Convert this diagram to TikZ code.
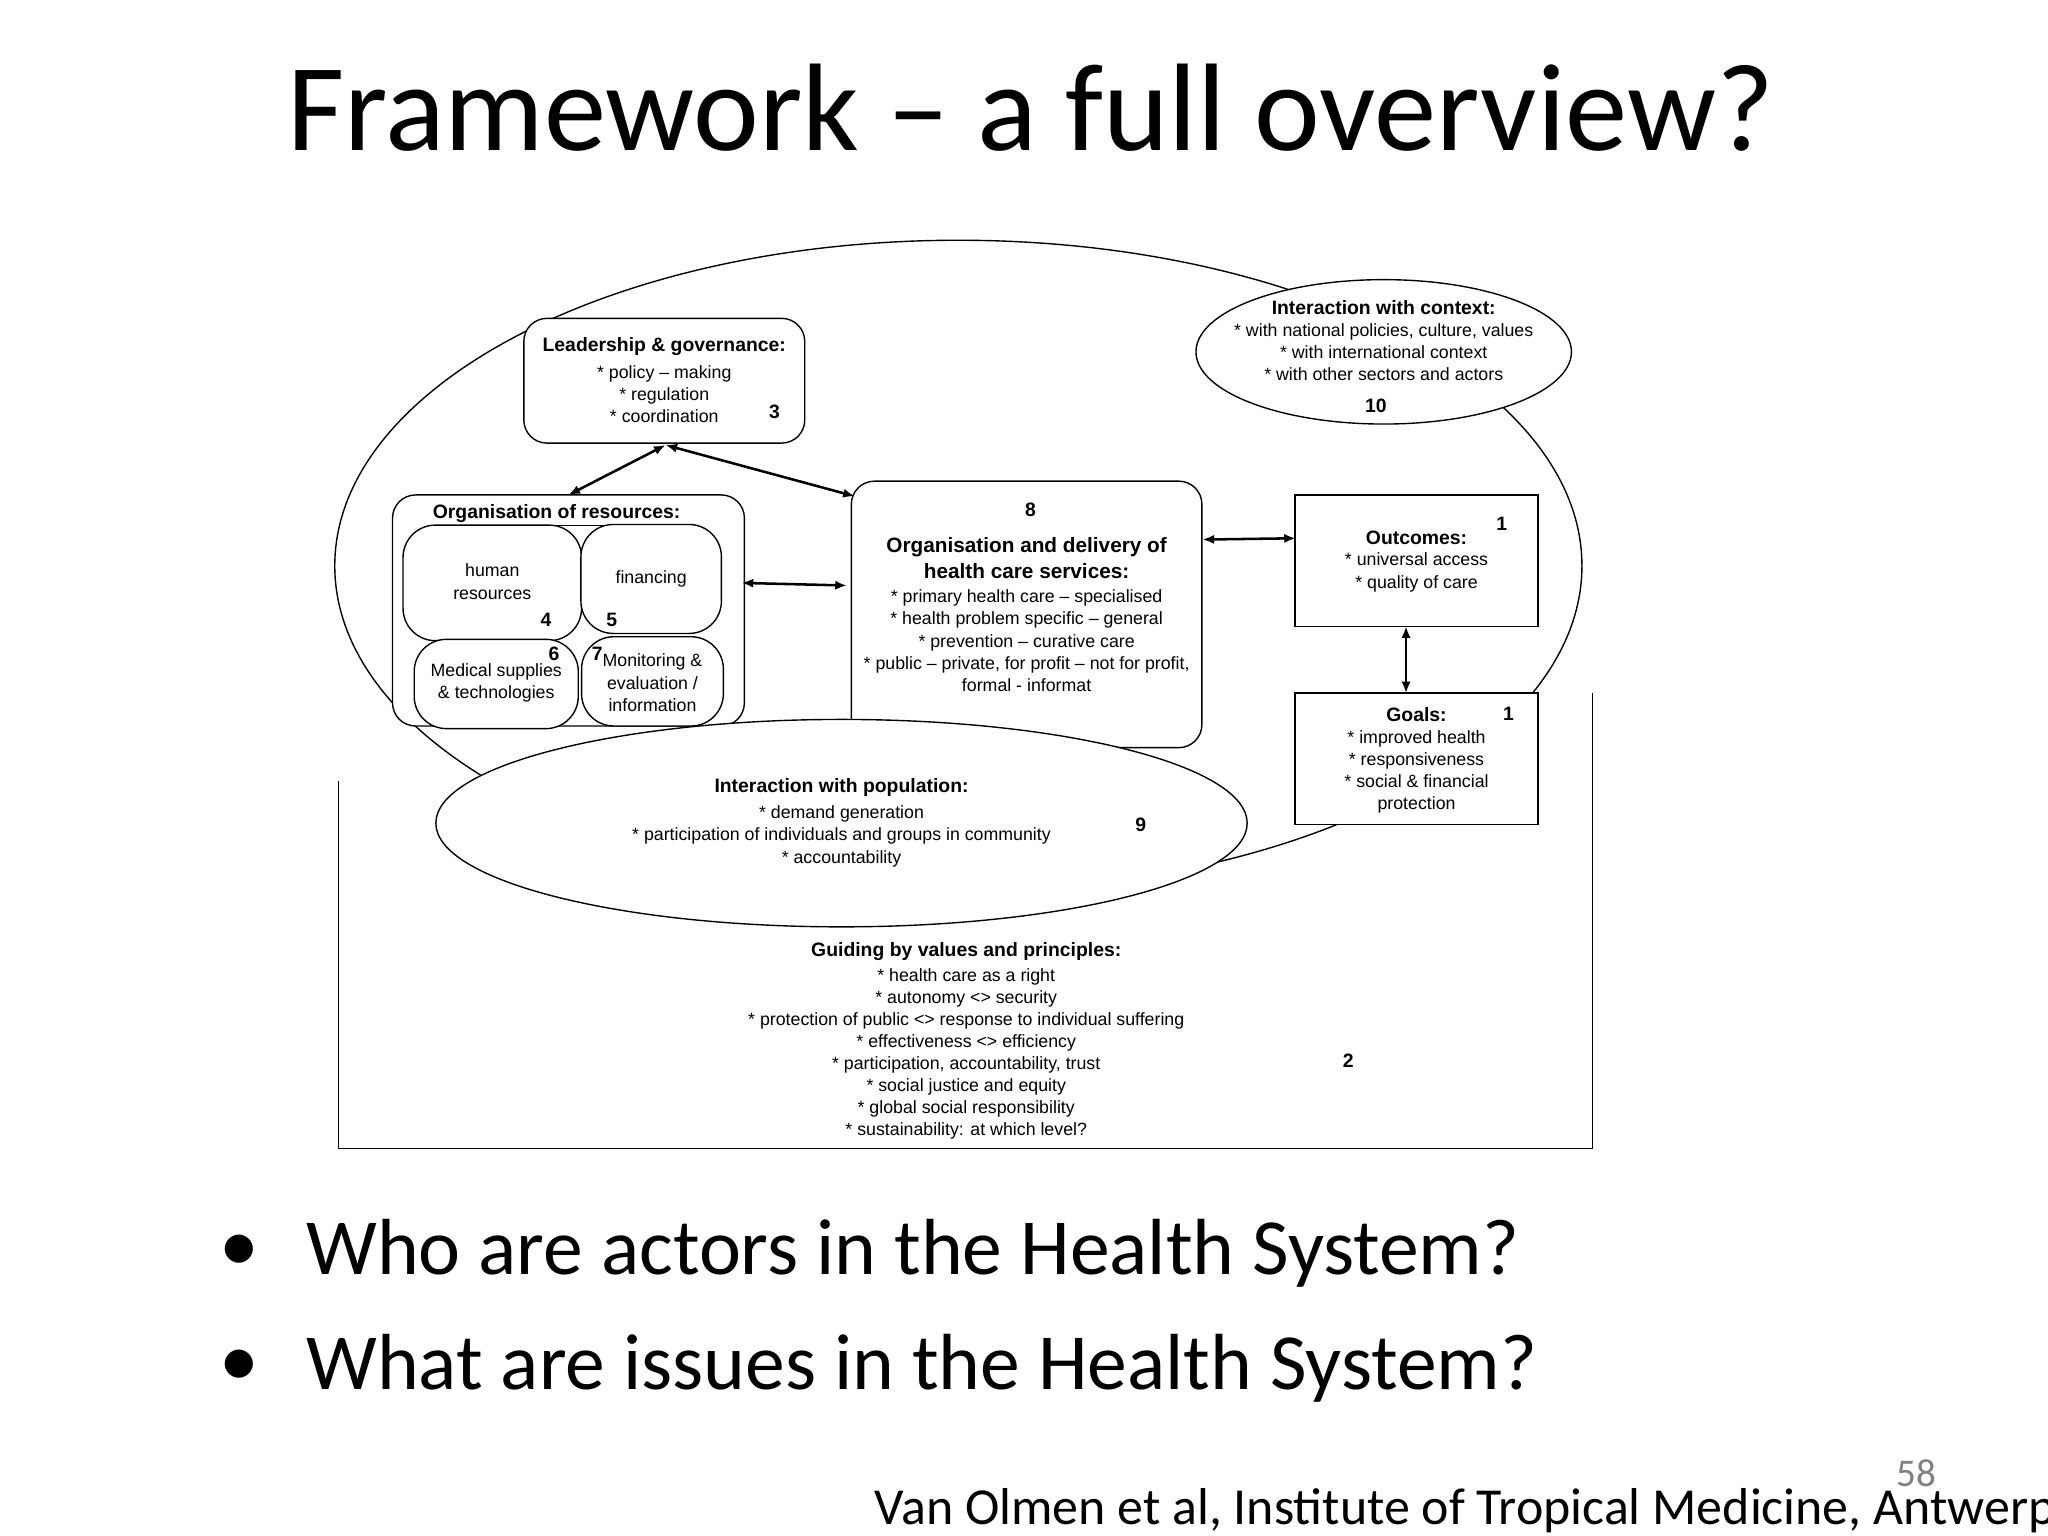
\documentclass[tikz,border=0pt]{standalone}
\usepackage{fontspec}
\setmainfont{Carlito}
\newfontfamily\arial{Liberation Sans}
\usetikzlibrary{shapes.geometric,arrows.meta}
\begin{document}
\begin{tikzpicture}[x=0.02cm,y=-0.02cm,
  box/.style={draw, line width=0.6pt, fill=white, rounded corners=10pt},
  sq/.style={draw, line width=0.6pt, fill=white},
  txt/.style={font=\arial\fontsize{7.7}{9.6}\selectfont, align=center, inner sep=0pt},
  bx/.style={font=\arial\bfseries\fontsize{8.4}{10}\selectfont, inner sep=0pt},
  arr/.style={{Latex[length=5pt,width=4pt]}-{Latex[length=5pt,width=4pt]}, line width=1.1pt}]
\useasboundingbox (0,0) rectangle (1560,1170);
\node[font=\fontsize{54}{60}\selectfont, inner sep=0pt] (title) at (785,82) {Framework – a full overview?};
% big ellipse
\draw[line width=0.6pt] (730,431) ellipse [x radius=475, y radius=248];
% values bracket
\draw[line width=0.6pt] (258,595) -- (258,875) -- (1213,875) -- (1213,528);
% leadership
\node[box, minimum width=214*0.02cm, minimum height=95*0.02cm] (lead) at (506,290) {};
\node[bx] (leadt) at (506,264) {Leadership \& governance:};
\node[txt] (leadl) at (506,300) {* policy – making\\* regulation\\* coordination};
\node[bx] (n3) at (590,314) {3};
% resources
\node[box, minimum width=268*0.02cm, minimum height=176*0.02cm] (res) at (433,465) {};
\node[bx] (rest) at (424,393) {\underline{Organisation of resources:}};
\node[box, rounded corners=14pt, minimum width=136*0.02cm, minimum height=88*0.02cm] (hr) at (375,444) {};
\node[txt] (hrt) at (375,443) {human\\resources};
\node[box, rounded corners=14pt, minimum width=107*0.02cm, minimum height=83*0.02cm] (fin) at (496,441) {};
\node[txt] (fint) at (496,441) {financing};
\node[box, rounded corners=14pt, minimum width=125*0.02cm, minimum height=68*0.02cm] (med) at (378,521) {};
\node[txt] (medt) at (378,520) {Medical supplies\\\& technologies};
\node[box, rounded corners=14pt, minimum width=108*0.02cm, minimum height=68*0.02cm] (mon) at (497,519) {};
\node[txt] (mont) at (497,520) {Monitoring \&\\evaluation /\\information};
\node[bx] (n4) at (416,472) {4};
\node[bx] (n5) at (466,472) {5};
\node[bx] (n6) at (422,498) {6};
\node[bx] (n7) at (455,498) {7};
% delivery
\node[box, minimum width=267*0.02cm, minimum height=203*0.02cm] (del) at (782,468) {};
\node[bx] (n8) at (785,388) {8};
\node[bx, align=center, font=\arial\bfseries\fontsize{9}{11.5}\selectfont] (delt) at (782,425) {Organisation and delivery of\\health care services:};
\node[txt] (dell) at (782,488) {* primary health care – specialised\\* health problem specific – general\\* prevention – curative care\\* public – private, for profit – not for profit,\\formal - informat};
% outcomes, goals
\node[sq, minimum width=185*0.02cm, minimum height=100*0.02cm] (out) at (1079,427) {};
\node[bx] (outt) at (1079,410) {Outcomes:};
\node[txt] (outl) at (1079,436) {* universal access\\* quality of care};
\node[bx] (n1a) at (1144,399) {1};
\node[sq, minimum width=185*0.02cm, minimum height=100*0.02cm] (goal) at (1079,578) {};
\node[bx] (goalt) at (1079,544) {Goals:};
\node[txt] (goall) at (1079,588) {* improved health\\* responsiveness\\* social \& financial\\protection};
\node[bx] (n1b) at (1149,544) {1};
% context
\node[ellipse, draw, line width=0.6pt, fill=white, minimum width=286*0.02cm, minimum height=110*0.02cm, inner sep=0pt] (ctx) at (1054,268) {};
\node[bx] (ctxt) at (1054,234) {Interaction with context:};
\node[txt] (ctxl) at (1054,268) {* with national policies, culture, values\\* with international context\\* with other sectors and actors};
\node[bx] (n10) at (1048,309) {10};
% population
\node[ellipse, draw, line width=0.6pt, fill=white, minimum width=618*0.02cm, minimum height=158*0.02cm, inner sep=0pt] (pop) at (641,627) {};
\node[bx] (popt) at (641,600) {Interaction with population:};
\node[txt] (popl) at (641,637) {* demand generation\\* participation of individuals and groups in community\\* accountability};
\node[bx] (n9) at (869,628) {9};
% values
\node[bx] (valt) at (736,725) {Guiding by values and principles:};
\node[txt, font=\arial\fontsize{7.7}{9.55}\selectfont] (vall) at (736,803) {* health care as a right\\* autonomy <> security\\* protection of public <> response to individual suffering\\* effectiveness <> efficiency\\* participation, accountability, trust\\* social justice and equity\\* global social responsibility\\* sustainability: at which level?};
\node[bx] (n2) at (1027,808) {2};
% arrows
\coordinate (lb) at (507,339);
\coordinate (ra) at (433,377);
\coordinate (da) at (651,378);
\coordinate (r1) at (565,444);
\coordinate (d1) at (645,446);
\coordinate (d2) at (916,411);
\coordinate (o2) at (987,410);
\coordinate (o3) at (1071,477);
\coordinate (g3) at (1071,528);
\draw[arr] (ra) -- (lb);
\draw[arr] (lb) -- (da);
\draw[arr] (r1) -- (d1);
\draw[arr] (d2) -- (o2);
\draw[arr] (o3) -- (g3);
% bullets
\node[font=\fontsize{34.5}{40}\selectfont, inner sep=0pt] (bu1) at (182,955) {•};
\node[font=\fontsize{34.5}{40}\selectfont, anchor=west, inner sep=0pt] (b1) at (233,955) {Who are actors in the Health System?};
\node[font=\fontsize{34.5}{40}\selectfont, inner sep=0pt] (bu2) at (182,1042) {•};
\node[font=\fontsize{34.5}{40}\selectfont, anchor=west, inner sep=0pt] (b2) at (233,1042) {What are issues in the Health System?};
\node[font=\fontsize{17}{20}\selectfont, text=gray, inner sep=0pt] (pg) at (1460,1122) {58};
\node[font=\fontsize{22.5}{28}\selectfont, anchor=west, inner sep=0pt] (cite) at (666,1151) {Van Olmen et al, Institute of Tropical Medicine, Antwerp};
\end{tikzpicture}
\end{document}
